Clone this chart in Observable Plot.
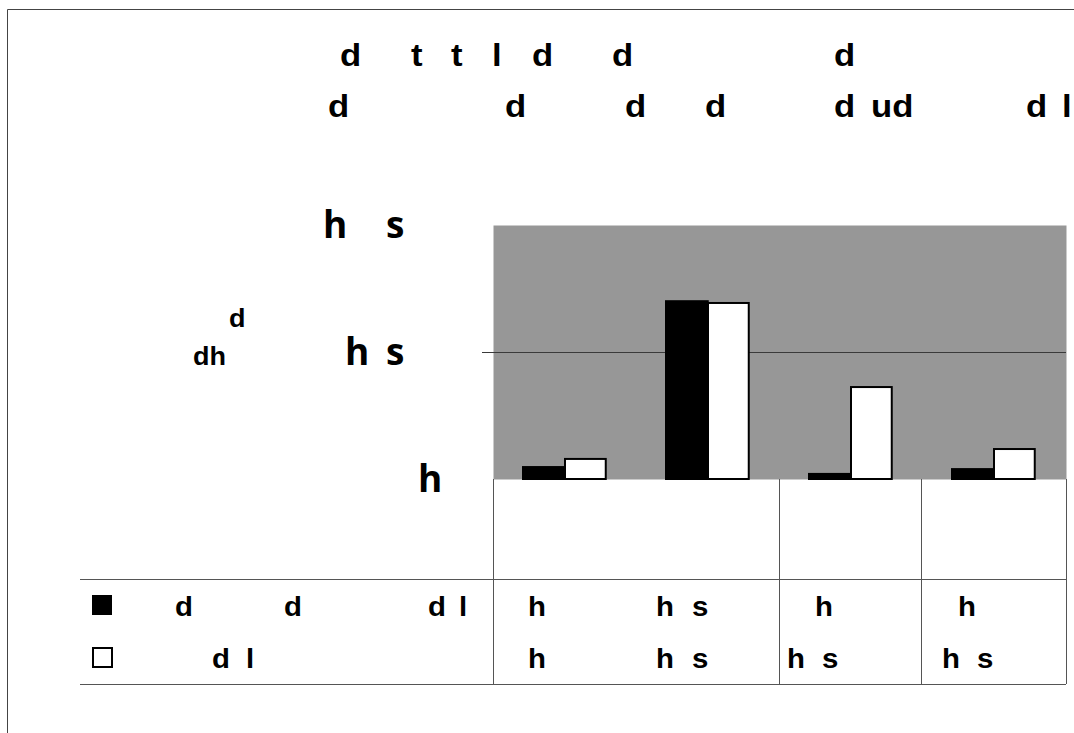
<!DOCTYPE html>
<html><head><meta charset="utf-8">
<script src="https://cdn.jsdelivr.net/npm/d3@7"></script>
<script src="https://cdn.jsdelivr.net/npm/@observablehq/plot@0.6"></script>
<style>body{margin:0;background:#fff} svg{display:block}</style>
</head><body><div id="chart"></div>
<script>
// ---- data ----
const categories = ["A", "B", "C", "D"];
const seriesDark = [0.047, 0.70, 0.02, 0.039];
const seriesLight = [0.079, 0.693, 0.362, 0.118];
const yTicks = [0, 0.5, 1];
const yTickLabels = [["h"], ["h", "s"], ["h", "s"]];
const titleLine1 = ["d", "t", "t", "l", "d", "d", "d"];
const titleLine2 = ["d", "d", "d", "d", "d", "ud", "d", "l"];
const yAxisTitle = ["d", "dh"];
const rowLabelDark = ["d", "d", "d", "l"];
const rowLabelLight = ["d", "l"];
const tableDark = [["h"], ["h", "s"], ["h"], ["h"]];
const tableLight = [["h"], ["h", "s"], ["h", "s"], ["h", "s"]];

// ---- layout (pixels) ----
const W = 1074, H = 733;
const title1X = [340, 411, 451, 492, 532, 612, 834];
const title2X = [328, 505, 625, 705, 834, 871, 1026, 1062];
const yTickX = [[323, 386], [345, 386], [418]].reverse();
const yTitlePos = [[229, 327], [193, 365]];
const rowDarkX = [175, 284, 428, 459];
const rowLightX = [212, 246];
const tableDarkX = [[528], [656, 692], [815], [958]];
const tableLightX = [[528], [656, 692], [787, 822], [942, 977]];

const darkData = categories.map((c, i) => ({cat: c, value: seriesDark[i]}));
const lightData = categories.map((c, i) => ({cat: c, value: seriesLight[i]}));

const plot = Plot.plot({
  width: W, height: H,
  marginLeft: 493, marginRight: 8, marginTop: 225, marginBottom: 254,
  x: {domain: categories, padding: 0, axis: null},
  y: {domain: [0, 1], axis: null},
  style: {background: "white", overflow: "visible"},
  marks: [
    Plot.frame({fill: "#979797", stroke: "none"}),
    Plot.ruleY([0.5], {stroke: "#3a3a3a", strokeWidth: 1}),
    Plot.barY(darkData, {x: "cat", y: "value", fill: "black", stroke: "black", strokeWidth: 2, insetLeft: 29, insetRight: 72.25}),
    Plot.barY(lightData, {x: "cat", y: "value", fill: "white", stroke: "black", strokeWidth: 2, insetLeft: 71, insetRight: 31.25})
  ]
});

const svg = d3.select(plot);
const ys = plot.scale("y");
const xs = plot.scale("x");
const left = 493, right = W - 8;
const plotBottom = ys.apply(0);
const tableMid = 579, tableBottom = 684;

function glyph(g, txt, x, y, size, sx, family) {
  g.append("text")
    .attr("transform", `translate(${x},${y}) scale(${sx},1)`)
    .attr("font-family", family)
    .attr("font-weight", "bold")
    .attr("font-size", size)
    .attr("fill", "black")
    .attr("text-anchor", "start")
    .text(txt);
}
const ARIAL = "'Liberation Sans', Arial, sans-serif";
const OPEN = "'Open Sans', 'Noto Sans', sans-serif";
const g = svg.append("g");

// outer chart border (top and left)
g.append("line").attr("x1", 7.5).attr("x2", W).attr("y1", 9.5).attr("y2", 9.5).attr("stroke", "#444");
g.append("line").attr("x1", 7.5).attr("x2", 7.5).attr("y1", 9.5).attr("y2", H).attr("stroke", "#444");

// title
titleLine1.forEach((t, i) => glyph(g, t, title1X[i], 66, 31, 1.12, ARIAL));
titleLine2.forEach((t, i) => glyph(g, t, title2X[i], 117, 31, 1.12, ARIAL));

// y tick labels
yTicks.forEach((v, i) => {
  const yy = ys.apply(v) + 13;
  yTickLabels[i].forEach((t, j) => glyph(g, t, yTickX[i][j], yy, 37, 1, OPEN));
});
// tick mark for gridline
g.append("line").attr("x1", 482).attr("x2", left).attr("y1", ys.apply(0.5) + 0.5).attr("y2", ys.apply(0.5) + 0.5).attr("stroke", "#3a3a3a");

// y axis title
yAxisTitle.forEach((t, i) => glyph(g, t, yTitlePos[i][0], yTitlePos[i][1], 25, 1.08, ARIAL));

// data table lines
const lc = "#555";
[tableMid, tableBottom].forEach(yy =>
  g.append("line").attr("x1", 80).attr("x2", right).attr("y1", yy + 0.5).attr("y2", yy + 0.5).attr("stroke", lc));
[left, xs.apply("C") - 1, xs.apply("D") - 2, right].forEach(xx =>
  g.append("line").attr("x1", Math.round(xx) + 0.5).attr("x2", Math.round(xx) + 0.5).attr("y1", plotBottom).attr("y2", tableBottom).attr("stroke", lc));

// legend keys
g.append("rect").attr("x", 92).attr("y", 595).attr("width", 20).attr("height", 20).attr("fill", "black");
g.append("rect").attr("x", 93).attr("y", 648).attr("width", 19).attr("height", 19).attr("fill", "white").attr("stroke", "black").attr("stroke-width", 2);

// row labels and values
const TS = 28, TX = 1.05;
rowLabelDark.forEach((t, i) => glyph(g, t, rowDarkX[i], 616, TS, TX, ARIAL));
rowLabelLight.forEach((t, i) => glyph(g, t, rowLightX[i], 668, TS, TX, ARIAL));
tableDark.forEach((cell, i) => cell.forEach((t, j) => glyph(g, t, tableDarkX[i][j], 616, TS, TX, ARIAL)));
tableLight.forEach((cell, i) => cell.forEach((t, j) => glyph(g, t, tableLightX[i][j], 668, TS, TX, ARIAL)));

document.getElementById("chart").appendChild(plot);
</script>
</body></html>
